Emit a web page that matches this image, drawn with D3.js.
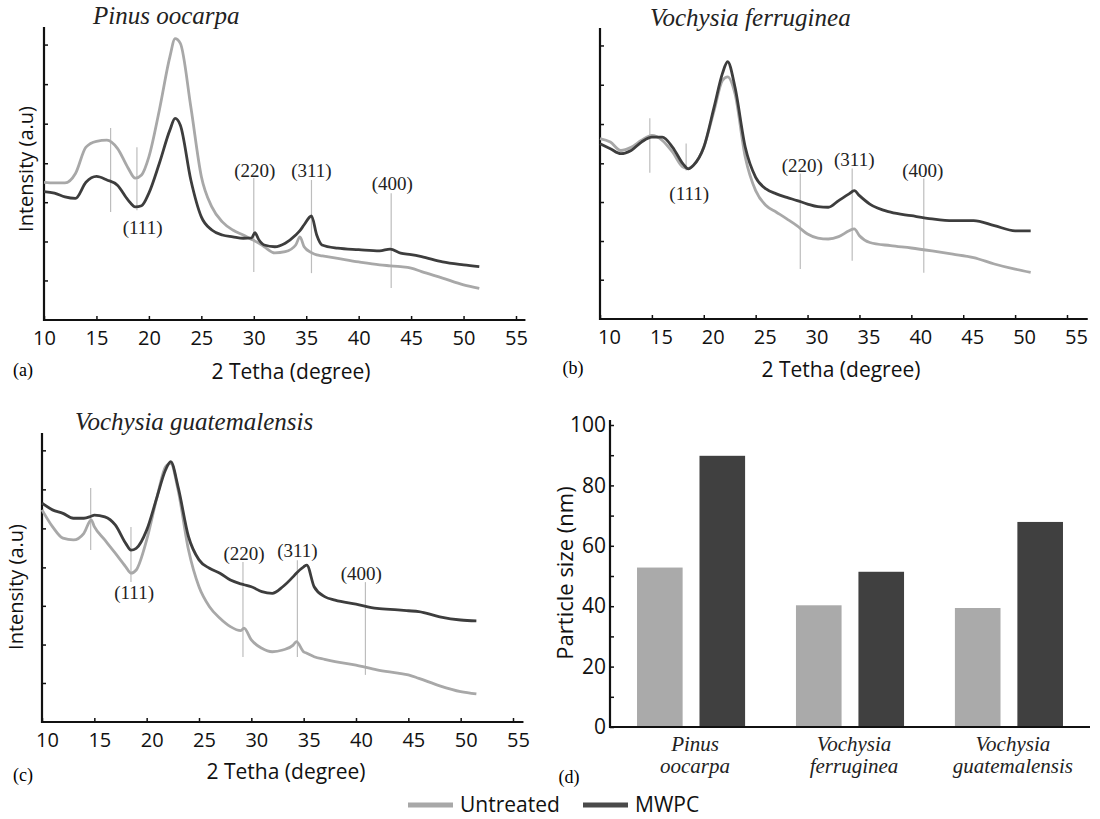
<!DOCTYPE html>
<html>
<head>
<meta charset="utf-8">
<script src="https://cdn.jsdelivr.net/npm/d3@7"></script>
<style>
  body { margin: 0; background: #fff; }
  svg { display: block; }
</style>
</head>
<body>
<div class="fig"></div>
<script>
// Paramètres de la figure
const width = 1100;
const height = 819;

const sansFont = '"Open Sans", "DejaVu Sans", sans-serif';
const serifFont = '"Liberation Serif", "DejaVu Serif", serif';

const greyColor = '#a8a8a8';
const darkColor = '#3d3d3d';
const peakColor = '#bdbdbd';

// --- Données ---
const thetaTicks = [10, 15, 20, 25, 30, 35, 40, 45, 50, 55];
const intensityTicks = [13.5, 26.8, 40.2, 53.5, 67, 80.5, 94];
const peakNames = ['(111)', '(220)', '(311)', '(400)'];

// (a) Pinus oocarpa
const pinusTheta = [10, 11, 12, 13, 14, 15, 16, 17, 18, 18.7, 19.3, 20, 21, 22, 22.5, 23, 24, 25, 26, 27, 28, 29, 29.8, 30.1, 30.5, 31, 32, 33, 34, 34.4, 34.8, 35.5, 36, 36.5, 38, 40, 42, 43, 44, 45, 46, 48, 50, 51.5];
const pinusUntreated = [47, 46.8, 46.8, 50, 59, 61, 61.4, 58.6, 52, 48.4, 49.5, 55.7, 71.7, 89.8, 96, 94.4, 72.7, 49, 38.6, 33.5, 30.7, 29, 27.5, 27, 26.2, 25, 22.9, 23.3, 25.6, 28.4, 25, 23, 22.2, 21.9, 21, 19.8, 18.8, 18.5, 18.2, 17.7, 16.5, 14.3, 12, 10.8];
const pinusMwpc = [43.8, 43.3, 42, 41.5, 47, 49, 47.8, 46, 41, 38.6, 39, 43.3, 53.5, 64.8, 68.8, 66.5, 47.8, 35.2, 30.7, 29, 28.4, 27.9, 28, 29.8, 27.3, 25.6, 25, 26.2, 29, 30.5, 32.5, 35.5, 29, 25.6, 24.5, 24, 23.6, 24.2, 22.8, 22.3, 21.6, 19.8, 18.8, 18.2];
const pinusPeakTheta = [16.35, 18.86, 30.0, 35.5, 43.1];
const pinusPeakTop = [65.5, 59, 48.5, 47.8, 43.3];
const pinusPeakBottom = [36.9, 37.5, 16.4, 16, 10.9];
const pinusLabelTheta = [19.4, 30.1, 35.5, 43.2];
const pinusLabelLevel = [31.7, 51.2, 51.2, 46.8];

// (b) Vochysia ferruginea
const ferrTheta = [10, 11, 12, 13, 14, 15, 16, 17, 18, 18.5, 19, 20, 21, 21.8, 22.3, 23, 24, 25, 26, 27, 28, 29, 30, 31, 32, 33, 34, 34.5, 35, 36, 38, 40, 42, 44, 46, 48, 50, 51.5];
const ferrUntreated = [62, 60.8, 57.9, 59, 61.4, 63.1, 61.4, 57.3, 52.2, 51.7, 52.8, 59, 71.7, 82, 83.2, 77.5, 55.6, 44.1, 39, 36.7, 34.4, 32, 29.2, 27.8, 27.5, 28.3, 30.3, 31, 28.6, 26.3, 25.2, 24.4, 23.4, 22.3, 21.1, 18.9, 17.1, 16];
const ferrMwpc = [60.2, 58.5, 56.8, 57.9, 60.8, 62.5, 62.5, 59, 53.3, 51.6, 52.8, 59, 72.9, 84.4, 88.4, 79.8, 59, 48.7, 44.7, 43, 41.8, 40.7, 39.5, 38.6, 38.4, 40.7, 43, 44.1, 42.4, 39.5, 36.7, 35.5, 34.4, 33.8, 33.8, 32.1, 30.3, 30.3];
const ferrPeakTheta = [14.8, 18.3, 29.3, 34.3, 41.2];
const ferrPeakTop = [69, 60.3, 50, 51.7, 48.3];
const ferrPeakBottom = [50.3, 51, 17.2, 20, 15.9];
const ferrLabelTheta = [18.6, 29.5, 34.5, 41.1];
const ferrLabelLevel = [43.1, 52.8, 54.8, 51];

// (c) Vochysia guatemalensis
const guatTheta = [10, 11, 12, 13, 14, 14.7, 15, 16, 17, 18, 18.5, 19, 20, 21, 21.8, 22.3, 23, 24, 25, 26, 27, 28, 29, 29.3, 30, 31, 32, 33, 34, 34.3, 35, 35.3, 36, 37, 38, 40, 42, 44, 45, 46, 48, 50, 51.5];
const guatUntreated = [73.4, 67.6, 63.6, 63, 65.3, 69.9, 67.6, 63, 58.4, 53.7, 51.5, 52.6, 63, 78, 88.3, 89.5, 80.3, 59.5, 46.8, 39.9, 35.9, 33, 31.6, 32.5, 28.4, 25.5, 24.3, 24.9, 26.6, 27.8, 24.3, 23.8, 22.6, 21.7, 20.9, 19.7, 18, 16.9, 16.3, 15.1, 12.5, 10.5, 9.7];
const guatMwpc = [75.7, 73.4, 72.2, 70.5, 70.5, 71.2, 71.6, 71, 68.2, 61.8, 59.5, 60.1, 66.4, 78, 87.2, 90.1, 81.4, 64.1, 56.1, 53.2, 51.5, 49.1, 47.8, 47.5, 46.8, 45.1, 44.5, 46.8, 50.3, 51.5, 53.7, 54.3, 46.8, 43.4, 42.2, 40.8, 39.3, 38.8, 38.5, 38.2, 36.4, 35.3, 35];
const guatPeakTheta = [14.65, 18.5, 29.2, 34.4, 40.9];
const guatPeakTop = [81, 67.5, 55.4, 56, 48.4];
const guatPeakBottom = [59.5, 48.4, 22.5, 22.5, 16.3];
const guatLabelTheta = [18.8, 29.3, 34.4, 40.5];
const guatLabelLevel = [45, 58.5, 59.5, 51.6];

// (d) taille des particules
const species = ['Pinus oocarpa', 'Vochysia ferruginea', 'Vochysia guatemalensis'];
const treatments = ['Untreated', 'MWPC'];
const sizeUntreated = [52.8, 40.3, 39.4];
const sizeMwpc = [89.8, 51.4, 67.9];
const sizeTicks = [0, 10, 20, 30, 40, 50, 60, 70, 80, 90, 100];

// mise en page des trois diffractogrammes
const panels = [
  { tag: '(a)', title: species[0], theta: pinusTheta, untreated: pinusUntreated, mwpc: pinusMwpc,
    peakTheta: pinusPeakTheta, peakTop: pinusPeakTop, peakBottom: pinusPeakBottom,
    labelTheta: pinusLabelTheta, labelLevel: pinusLabelLevel,
    xLeft: 44, xRight: 516, xEnd: 55.9, yBottom: 320, yTop: 27, labelDx: 0,
    titleX: 93, titleY: 24, tagX: 23, tagY: 370, xLabelX: 291, xLabelY: 372, yLabelX: 26, yLabelY: 169 },
  { tag: '(b)', title: species[1], theta: ferrTheta, untreated: ferrUntreated, mwpc: ferrMwpc,
    peakTheta: ferrPeakTheta, peakTop: ferrPeakTop, peakBottom: ferrPeakBottom,
    labelTheta: ferrLabelTheta, labelLevel: ferrLabelLevel,
    xLeft: 600, xRight: 1067, xEnd: 57, yBottom: 319, yTop: 28, labelDx: 9,
    titleX: 650, titleY: 26, tagX: 573, tagY: 368, xLabelX: 841, xLabelY: 370, yLabelX: null, yLabelY: null },
  { tag: '(c)', title: species[2], theta: guatTheta, untreated: guatUntreated, mwpc: guatMwpc,
    peakTheta: guatPeakTheta, peakTop: guatPeakTop, peakBottom: guatPeakBottom,
    labelTheta: guatLabelTheta, labelLevel: guatLabelLevel,
    xLeft: 42, xRight: 513, xEnd: 56, yBottom: 722, yTop: 433, labelDx: 5,
    titleX: 75, titleY: 430, tagX: 23, tagY: 775, xLabelX: 286, xLabelY: 772, yLabelX: 16, yLabelY: 587 }
];

const svg = d3.select('.fig')
  .append('svg')
  .attr('width', width)
  .attr('height', height);

svg.append('rect').attr('width', width).attr('height', height).attr('fill', '#fff');

panels.forEach(drawXrd);
drawBars();
drawLegend();

function drawXrd(p) {
  const g = svg.append('g');

  const x = d3.scaleLinear().domain([10, 55]).range([p.xLeft, p.xRight]);
  const y = d3.scaleLinear().domain([0, 100]).range([p.yBottom, p.yTop]);

  // axes
  const xAxis = g.append('g')
    .attr('transform', `translate(0, ${p.yBottom})`)
    .call(d3.axisBottom(x).tickValues(thetaTicks).tickSizeInner(-4).tickSizeOuter(0));
  xAxis.select('.domain').remove();
  xAxis.selectAll('line').attr('stroke', '#111').attr('stroke-width', 1.5);
  xAxis.selectAll('text')
    .attr('y', 18).attr('dy', '0.35em').attr('dx', p.labelDx)
    .style('font', `20px ${sansFont}`).attr('fill', '#111');

  const yAxis = g.append('g')
    .attr('transform', `translate(${p.xLeft}, 0)`)
    .call(d3.axisLeft(y).tickValues(intensityTicks).tickSizeInner(-4).tickSizeOuter(0).tickFormat(''));
  yAxis.select('.domain').remove();
  yAxis.selectAll('line').attr('stroke', '#111').attr('stroke-width', 1.5);

  g.append('line')
    .attr('x1', x(10)).attr('x2', x(p.xEnd))
    .attr('y1', y(0)).attr('y2', y(0))
    .attr('stroke', '#111').attr('stroke-width', 2.2);
  g.append('line')
    .attr('x1', x(10)).attr('x2', x(10))
    .attr('y1', y(0) + 1).attr('y2', y(100))
    .attr('stroke', '#111').attr('stroke-width', 2.2);

  // lignes de référence des pics
  g.append('g').selectAll('line')
    .data(p.peakTheta)
    .join('line')
      .attr('x1', d => x(d)).attr('x2', d => x(d))
      .attr('y1', (d, i) => y(p.peakTop[i]))
      .attr('y2', (d, i) => y(p.peakBottom[i]))
      .attr('stroke', peakColor).attr('stroke-width', 1.2);

  const line = d3.line()
    .x(d => x(d[0]))
    .y(d => y(d[1]))
    .curve(d3.curveMonotoneX);

  g.append('path')
    .datum(p.theta.map((t, i) => [t, p.untreated[i]]))
    .attr('d', line)
    .attr('fill', 'none').attr('stroke', greyColor).attr('stroke-width', 2.8);

  g.append('path')
    .datum(p.theta.map((t, i) => [t, p.mwpc[i]]))
    .attr('d', line)
    .attr('fill', 'none').attr('stroke', darkColor).attr('stroke-width', 2.8);

  g.append('g').selectAll('text')
    .data(peakNames)
    .join('text')
      .attr('x', (d, i) => x(p.labelTheta[i]))
      .attr('y', (d, i) => y(p.labelLevel[i]))
      .attr('dy', '0.35em')
      .attr('text-anchor', 'middle')
      .style('font', `19px ${serifFont}`)
      .attr('fill', '#222')
      .text(d => d);

  // titres
  g.append('text')
    .attr('x', p.titleX).attr('y', p.titleY)
    .style('font', `italic 25px ${serifFont}`)
    .attr('fill', '#222')
    .text(p.title);

  g.append('text')
    .attr('x', p.tagX).attr('y', p.tagY).attr('dy', '0.35em')
    .attr('text-anchor', 'middle')
    .style('font', `18px ${serifFont}`)
    .text(p.tag);

  g.append('text')
    .attr('x', p.xLabelX).attr('y', p.xLabelY).attr('dy', '0.35em')
    .attr('text-anchor', 'middle')
    .style('font', `21px ${sansFont}`)
    .attr('fill', '#111')
    .text('2 Tetha (degree)');

  if (p.yLabelX !== null) {
    g.append('text')
      .attr('transform', `translate(${p.yLabelX}, ${p.yLabelY}) rotate(-90)`)
      .attr('dy', '0.35em')
      .attr('text-anchor', 'middle')
      .style('font', `20px ${sansFont}`)
      .attr('fill', '#111')
      .text('Intensity (a.u)');
  }
}

function drawBars() {
  const g = svg.append('g');

  const x0 = d3.scaleBand().domain(species).range([610, 1090]).paddingInner(0.32).paddingOuter(0.17);
  const x1 = d3.scaleBand().domain(treatments).range([0, x0.bandwidth()]).paddingInner(0.27);
  const y = d3.scaleLinear().domain([0, 100]).range([727, 425]);
  const color = d3.scaleOrdinal().domain(treatments).range(['#aaaaaa', '#404040']);

  const rows = species.map((s, i) => ({ s, values: [sizeUntreated[i], sizeMwpc[i]] }));

  g.append('g').selectAll('g')
    .data(rows)
    .join('g')
      .attr('transform', d => `translate(${x0(d.s)}, 0)`)
    .selectAll('rect')
    .data(d => d.values.map((v, i) => ({ t: treatments[i], v })))
    .join('rect')
      .attr('x', d => x1(d.t))
      .attr('width', x1.bandwidth())
      .attr('y', d => y(d.v))
      .attr('height', d => y(0) - y(d.v))
      .attr('fill', d => color(d.t));

  const yAxis = g.append('g')
    .attr('transform', 'translate(610, 0)')
    .call(d3.axisLeft(y).tickValues(sizeTicks).tickSizeInner(-4).tickSizeOuter(0).tickPadding(4)
      .tickFormat(d => d % 20 === 0 ? d : ''));
  yAxis.select('.domain').remove();
  yAxis.selectAll('line').attr('stroke', '#111').attr('stroke-width', 1.5);
  yAxis.selectAll('text').style('font', `21px ${sansFont}`).attr('fill', '#111');

  g.append('line')
    .attr('x1', 610).attr('x2', 610).attr('y1', y(0) + 1).attr('y2', 420)
    .attr('stroke', '#111').attr('stroke-width', 2.2);
  g.append('line')
    .attr('x1', 609).attr('x2', 1090).attr('y1', y(0)).attr('y2', y(0))
    .attr('stroke', '#111').attr('stroke-width', 2.2);

  // étiquettes des espèces sur deux lignes (un texte par ligne)
  const words = species.flatMap(s => s.split(' ').map((w, i) => ({ w, s, line: i })));
  g.append('g').selectAll('text')
    .data(words)
    .join('text')
      .attr('x', d => x0(d.s) + x0.bandwidth() / 2 + 4)
      .attr('y', d => 744 + d.line * 22)
      .attr('dy', '0.35em')
      .attr('text-anchor', 'middle')
      .style('font', `italic 21px ${serifFont}`)
      .attr('fill', '#222')
      .text(d => d.w);

  g.append('text')
    .attr('transform', 'translate(565, 573) rotate(-90)')
    .attr('dy', '0.35em')
    .attr('text-anchor', 'middle')
    .style('font', `22px ${sansFont}`)
    .attr('fill', '#111')
    .text('Particle size (nm)');

  g.append('text')
    .attr('x', 569).attr('y', 777).attr('dy', '0.35em')
    .attr('text-anchor', 'middle')
    .style('font', `18px ${serifFont}`)
    .text('(d)');
}

function drawLegend() {
  const legendX = d3.scaleOrdinal().domain(treatments).range([408, 583]);
  const colors = [greyColor, '#4a4a4a'];

  const item = svg.append('g').selectAll('g')
    .data(treatments)
    .join('g')
      .attr('transform', d => `translate(${legendX(d)}, 805)`);

  item.append('line')
    .attr('x1', 0).attr('x2', 45)
    .attr('stroke', (d, i) => colors[i])
    .attr('stroke-width', 5);

  item.append('text')
    .attr('x', 52)
    .attr('dy', '0.35em')
    .style('font', `21px ${sansFont}`)
    .attr('fill', '#111')
    .text(d => d);
}
</script>
</body>
</html>
